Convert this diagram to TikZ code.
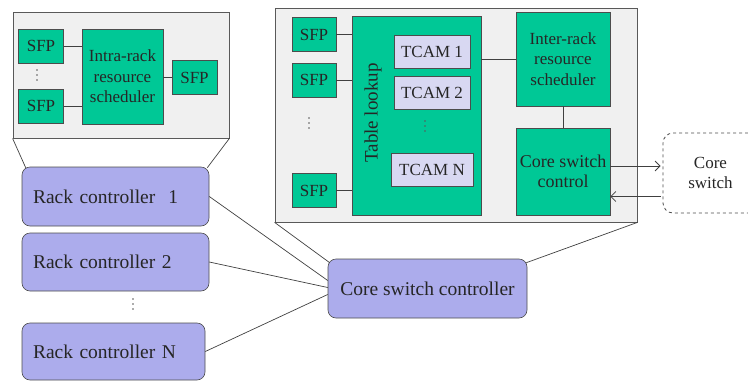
\documentclass[tikz,border=0pt]{standalone}
\usepackage{fontspec}
\setmainfont{Liberation Serif}
\usetikzlibrary{calc,arrows.meta}
\definecolor{sfpgreen}{RGB}{0,200,150}
\definecolor{rackblue}{RGB}{172,172,236}
\definecolor{tcamblue}{RGB}{216,216,242}
\definecolor{panelgray}{RGB}{240,240,240}
\tikzset{
	greenbox/.style={draw=black!70, fill=sfpgreen, line width=0.6pt, inner sep=0pt, align=center, text=black!85, font=\fontsize{17}{20.5}\selectfont},
	sfpbox/.style={greenbox, minimum width=45pt, minimum height=34pt},
	tcambox/.style={draw=black!70, fill=tcamblue, line width=0.6pt, inner sep=0pt, minimum width=76pt, minimum height=33pt, text=black!85, font=\fontsize{17}{20}\selectfont},
	rackbox/.style={draw=black!70, fill=rackblue, line width=0.6pt, rounded corners=8pt, inner ysep=0pt, text=black!85, font=\fontsize{19.5}{22}\selectfont},
	panel/.style={draw=black!65, fill=panelgray, line width=0.8pt, inner sep=0pt},
	wire/.style={draw=black!75, line width=0.7pt},
	tip/.style={-{Straight Barb[length=5pt, width=10pt, line width=0.8pt]}}
}
% three small dots standing one above the other
\def\vdotsat(#1){\foreach \dy in {-5, 0, 5} \fill[black!65] ($(#1)+(0, \dy)$) circle (0.9);}

\begin{document}
\begin{tikzpicture}[x=1pt, y=-1pt]
			%%%%% START %%%%%
			\useasboundingbox (0, 0) rectangle (748, 381);
			
			% rack side
			\node[panel, minimum width=216pt, minimum height=126pt] (lpanel) at (121, 75) {};
			\node[sfpbox] (lsfpA) at (41, 46) {SFP};
			\node[sfpbox] (lsfpB) at (41, 106) {SFP};
			\vdotsat(37, 75)
			\node[greenbox, minimum width=81pt, minimum height=95pt] (intra) at (122.5, 76.5) {Intra-rack\\resource\\scheduler};
			\node[sfpbox] (lsfpC) at (194.5, 77.5) {SFP};
			
			\draw[wire] (lsfpA.east) -- (lsfpA.east -| intra.west);
			\draw[wire] (lsfpB.east) -- (lsfpB.east -| intra.west);
			\draw[wire] (intra.east |- lsfpC.west) -- (lsfpC.west);
			
			\node[rackbox, text width=165pt, align=left, inner xsep=11pt, minimum height=59pt] (rc1) at (115.5, 196.5) {Rack controller~ 1};
			\node[rackbox, text width=165pt, align=left, inner xsep=11pt, minimum height=58pt] (rc2) at (115.5, 262) {Rack controller 2};
			\vdotsat(133, 304)
			\node[rackbox, text width=161pt, align=left, inner xsep=11pt, minimum height=57pt] (rcN) at (113.5, 351.5) {Rack controller N};
			
			\draw[wire] (lpanel.south west) -- ($(rc1.north west)+(4, 1)$);
			\draw[wire] (lpanel.south east) -- ($(rc1.north east)+(-2, 1)$);
			
			% core side
			\node[panel, minimum width=362pt, minimum height=214pt] (rpanel) at (456, 115) {};
			\node[sfpbox, minimum width=44pt] (rsfpA) at (314, 34.5) {SFP};
			\node[sfpbox, minimum width=44pt] (rsfpB) at (314, 80) {SFP};
			\vdotsat(309, 123)
			\node[sfpbox, minimum width=44pt] (rsfpC) at (314, 190.5) {SFP};
			
			\node[greenbox, minimum width=129pt, minimum height=199pt] (table) at (416.5, 115.5) {};
			\node[rotate=90, inner sep=0pt, text=black!85, font=\fontsize{19}{19}\selectfont] (tablelbl) at (373, 113) {Table lookup};
			\node[tcambox] (tcamA) at (432, 51.5) {TCAM 1};
			\node[tcambox] (tcamB) at (432, 92.5) {TCAM 2};
			\vdotsat(425, 126)
			\node[tcambox, minimum width=82pt] (tcamN) at (432, 169.5) {TCAM N};
			
			\draw[wire] (rsfpA.east) -- (rsfpA.east -| table.west);
			\draw[wire] (rsfpB.east) -- (rsfpB.east -| table.west);
			\draw[wire] (rsfpC.east) -- (rsfpC.east -| table.west);
			
			\node[greenbox, minimum width=94pt, minimum height=94pt] (inter) at (563, 59) {Inter-rack\\resource\\scheduler};
			\node[greenbox, minimum width=94pt, minimum height=87pt, font=\fontsize{18}{20}\selectfont] (csctl) at (563, 171.5) {Core switch\\control};
			\draw[wire] (table.east |- inter.west) -- (inter.west);
			\draw[wire] (inter.south) -- (csctl.north);
			
			\node[draw=black!70, dashed, line width=0.8pt, rounded corners=10pt, minimum width=95pt, minimum height=80pt, align=center, text=black!85, font=\fontsize{17}{20}\selectfont] (coresw) at (710.5, 173) {Core\\switch};
			\draw[wire, tip] ([yshift=5.5pt]csctl.east) -- ([yshift=5.5pt, xshift=-2pt]csctl.east -| coresw.west);
			\draw[wire, tip] ([yshift=-23.5pt, xshift=-2pt]coresw.west) -- ([yshift=-23.5pt]coresw.west -| csctl.east);
			
			\node[rackbox, minimum width=199pt, minimum height=59pt] (csc) at (427.5, 288.5) {Core switch controller};
			
			\draw[wire] (rpanel.south west) -- ($(csc.north west)+(2, 4)$);
			\draw[wire] (rpanel.south east) -- ($(csc.north east)+(-1, 4)$);
			\draw[wire] (rc1.east) -- ($(csc.west)+(0, -8)$);
			\draw[wire] (rc2.east) -- ($(csc.west)+(0, -1)$);
			\draw[wire] (rcN.east) -- ($(csc.west)+(0, 6)$);
			
			%%%%% END %%%%%
\end{tikzpicture}
\end{document}
